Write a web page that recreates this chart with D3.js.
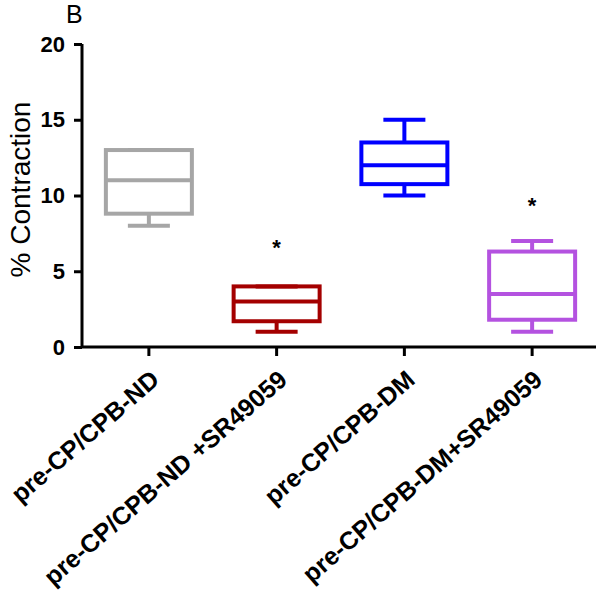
<!DOCTYPE html>
<html><head><meta charset="utf-8">
<script src="https://cdn.jsdelivr.net/npm/d3@7"></script>
<style>body{margin:0;background:#fff}</style>
</head><body>
<svg id="c" width="600" height="598"></svg>
<script>
const categories = ["pre-CP/CPB-ND", "pre-CP/CPB-ND +SR49059", "pre-CP/CPB-DM", "pre-CP/CPB-DM+SR49059"];
const mins    = [8, 1, 10, 1];
const q1s     = [8.8, 1.7, 10.75, 1.8];
const medians = [11, 3, 12, 3.5];
const q3s     = [13, 4, 13.5, 6.3];
const maxs    = [13, 4, 15, 7];
const colors  = ["#a6a6a6", "#a40000", "#0000ff", "#b452e0"];
const starY   = [null, 6.7, null, 9.5];
const yTicks  = [0, 5, 10, 15, 20];

const svg = d3.select("#c");
const mL = 82, mR = 596, mT = 44, mB = 347;
const x = d3.scaleBand().domain(categories).range([mL + 3, mR]).padding(0);
const y = d3.scaleLinear().domain([0, 20]).range([mB, mT]);
const font = "Arial, 'Liberation Sans', sans-serif";

// axes
const yAxis = svg.append("g").attr("transform", `translate(${mL},0)`)
  .call(d3.axisLeft(y).tickValues(yTicks).tickSize(8).tickPadding(9));
yAxis.select(".domain").attr("stroke", "#000").attr("stroke-width", 3).attr("d", `M0,${mT}V${mB}`);
yAxis.selectAll(".tick line").attr("stroke", "#000").attr("stroke-width", 3);
yAxis.selectAll(".tick text").attr("font-family", font).attr("font-size", 22).attr("font-weight", "bold").attr("fill", "#000");

const xAxis = svg.append("g").attr("transform", `translate(0,${mB})`)
  .call(d3.axisBottom(x).tickSize(9).tickFormat(""));
xAxis.select(".domain").attr("stroke", "#000").attr("stroke-width", 3).attr("d", `M${mL},0H${mR}`);
xAxis.selectAll(".tick line").attr("stroke", "#000").attr("stroke-width", 3);

// x labels rotated
svg.append("g").selectAll("text").data(categories).join("text")
  .attr("transform", d => `translate(${x(d) + x.bandwidth()/2 + 12},${mB + 35}) rotate(-41)`)
  .attr("text-anchor", "end")
  .attr("font-family", font).attr("font-size", 25).attr("font-weight", "bold").attr("fill", "#000")
  .text(d => d);

// y label
svg.append("text")
  .attr("transform", `translate(30,${(mT + mB)/2 - 6}) rotate(-90)`)
  .attr("text-anchor", "middle")
  .attr("font-family", font).attr("font-size", 28).attr("fill", "#000")
  .text("% Contraction");

// panel letter
svg.append("text").attr("x", 66).attr("y", 23)
  .attr("font-family", font).attr("font-size", 25).attr("fill", "#000").text("B");

// boxes
const boxW = 86, capW = 42;
const g = svg.append("g");
categories.forEach((c, i) => {
  const cx = x(c) + x.bandwidth()/2;
  const gg = g.append("g").attr("stroke", colors[i]).attr("stroke-width", 4).attr("fill", "none");
  gg.append("line").attr("x1", cx).attr("x2", cx).attr("y1", y(q3s[i])).attr("y2", y(maxs[i]));
  gg.append("line").attr("x1", cx).attr("x2", cx).attr("y1", y(q1s[i])).attr("y2", y(mins[i]));
  gg.append("line").attr("x1", cx - capW/2).attr("x2", cx + capW/2).attr("y1", y(maxs[i])).attr("y2", y(maxs[i]));
  gg.append("line").attr("x1", cx - capW/2).attr("x2", cx + capW/2).attr("y1", y(mins[i])).attr("y2", y(mins[i]));
  gg.append("rect").attr("x", cx - boxW/2).attr("width", boxW)
    .attr("y", y(q3s[i])).attr("height", y(q1s[i]) - y(q3s[i]));
  gg.append("line").attr("x1", cx - boxW/2).attr("x2", cx + boxW/2).attr("y1", y(medians[i])).attr("y2", y(medians[i]));
  if (starY[i] != null) {
    svg.append("text").attr("x", cx).attr("y", y(starY[i]) + 10).attr("text-anchor", "middle")
      .attr("font-family", font).attr("font-size", 22).attr("font-weight", "bold").attr("fill", "#000").text("*");
  }
});
</script>
</body></html>
